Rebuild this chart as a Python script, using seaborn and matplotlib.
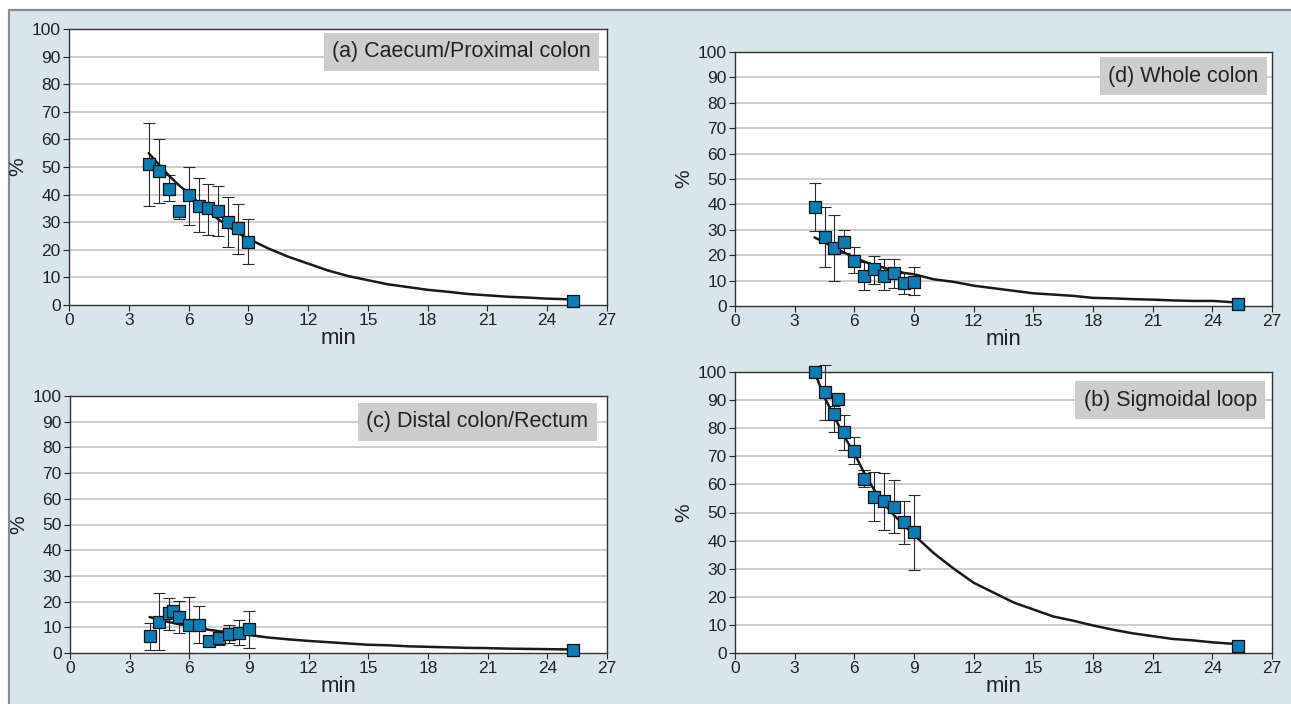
import matplotlib
matplotlib.use("Agg")
import matplotlib.pyplot as plt
import matplotlib.patches as mpatches
import numpy as np
import pandas as pd
import seaborn as sns

# ---- data ----
x_pts = [4, 4.5, 5, 5.5, 6, 6.5, 7, 7.5, 8, 8.5, 9, 25.3]
x_pts_b = [4, 4.5, 5, 5.2, 5.5, 6, 6.5, 7, 7.5, 8, 8.5, 9, 25.3]
curve_x = [4, 4.5, 5, 5.5, 6, 6.5, 7, 7.5, 8, 8.5, 9, 10, 11, 12, 13, 14, 15,
           16, 17, 18, 19, 20, 21, 22, 23, 24, 25, 25.3]

# (a) Caecum/Proximal colon
a_y = [51, 48.5, 42, 34, 40, 36, 35, 34, 30, 28, 23, 1.5]
a_lo = [36, 37, 37.7, 31, 29, 26.5, 25.5, 25, 21, 18.5, 15, 1.2]
a_hi = [66, 60, 47, 36, 50, 46, 44, 43, 39, 36.5, 31, 2]
a_curve = [55, 51, 47, 43.5, 40.5, 37, 34, 31, 28.5, 26, 24, 20.5, 17.5, 15,
           12.5, 10.5, 9, 7.5, 6.5, 5.5, 4.8, 4, 3.5, 3, 2.7, 2.3, 2.1, 2]

# (d) Whole colon
d_y = [38.8, 27.3, 23, 25.2, 17.7, 12, 14.4, 12, 12.8, 8.9, 9.4, 0.8]
d_lo = [29.5, 15.5, 10, 21, 12.8, 6.3, 8.5, 6.3, 7, 4.6, 4.2, 0.5]
d_hi = [48.5, 38.8, 36, 29.9, 23.3, 17.4, 19.7, 18.5, 18.7, 12.8, 15.2, 1]
d_curve = [27, 25, 23, 21, 19, 17.5, 16, 15, 14, 13, 12.5, 10.5, 9.5, 8, 7,
           6, 5, 4.5, 4, 3.2, 3, 2.7, 2.5, 2.2, 2, 2, 1.5, 1.5]

# (c) Distal colon/Rectum
c_y = [6.7, 12, 15.5, 16.4, 14.2, 11, 11, 4.5, 6, 7.4, 7.8, 9.4, 1.3]
c_lo = [1.3, 1.3, 9, 14, 7.8, 0, 3.9, 3.5, 3.2, 3.9, 3.2, 1.9, 1.0]
c_hi = [11.6, 23.5, 21.3, 18, 20.3, 21.7, 18.1, 5.5, 7.5, 11, 12.7, 16.4, 1.5]
c_curve = [14, 13, 12, 11.2, 10.5, 9.8, 9, 8.5, 8, 7.5, 7, 6, 5.3, 4.7, 4.2,
           3.7, 3.2, 3, 2.6, 2.4, 2.2, 2, 1.9, 1.7, 1.6, 1.5, 1.4, 1.4]

# (b) Sigmoidal loop
b_y = [100, 93, 85, 90.5, 78.5, 72, 62, 55.5, 54, 52, 46.5, 43, 2.5]
b_lo = [100, 83, 78.5, 89.5, 72.4, 67.3, 59, 46.9, 43.9, 42.7, 38.9, 29.5, 1.2]
b_hi = [100, 102.5, 88, 91, 84.8, 76.7, 65, 64.3, 63.9, 61.4, 54, 56.3, 4.4]
b_curve = [100, 91, 84, 77, 71, 64, 58, 53, 49, 45.5, 42, 35.5, 30, 25, 21.5,
           18, 15.5, 13, 11.5, 9.8, 8.3, 7, 6, 5, 4.5, 3.8, 3.3, 2.7]

sns.set_style("white")
plt.rcParams["font.family"] = ["Liberation Sans Narrow", "Liberation Sans", "DejaVu Sans"]

fig = plt.figure(figsize=(12.91, 7.04), dpi=100, facecolor="white")
fig.patches.append(mpatches.Rectangle((9 / 1291, 0), 1, 1 - 10 / 704,
                                      transform=fig.transFigure,
                                      facecolor="#d8e5ec", edgecolor="none", zorder=-10))
fig.lines.append(plt.Line2D([9 / 1291, 1], [1 - 10 / 704] * 2, transform=fig.transFigure,
                            color="#8c8c8c", lw=1.6, zorder=-5))
fig.lines.append(plt.Line2D([9 / 1291] * 2, [0, 1 - 10 / 704], transform=fig.transFigure,
                            color="#8c8c8c", lw=1.6, zorder=-5))


def panel(rect, label, label_pos, xp, y, lo, hi, cy):
    ax = fig.add_axes(rect)
    ax.set_facecolor("white")
    for yy in range(10, 100, 10):
        ax.axhline(yy, color="#c6c6c6", lw=1.2, zorder=1)
    y = np.array(y)
    yerr = [y - np.array(lo), np.array(hi) - y]
    eb = ax.errorbar(xp, y, yerr=yerr, fmt="none", ecolor="#2a2a2a", elinewidth=0.8,
                     capsize=4, capthick=0.8, zorder=2)
    for art in eb.lines[1] + eb.lines[2]:
        art.set_clip_on(False)
    sns.lineplot(x=curve_x, y=cy, ax=ax, color="#1a1a1a", lw=1.8, zorder=3)
    sns.scatterplot(x=xp, y=y, ax=ax, marker="s", s=68, color="#0a7db3",
                    edgecolor="#111111", linewidth=0.9, zorder=4, clip_on=False)
    ax.set_xlim(0, 27)
    ax.set_ylim(0, 100)
    ax.set_xticks(range(0, 28, 3))
    ax.set_yticks(range(0, 101, 10))
    ax.tick_params(axis="both", direction="out", length=4, width=0.8,
                   labelsize=12.5, colors="#222222", pad=2, bottom=True, left=True)
    for s in ax.spines.values():
        s.set_color("#333333")
        s.set_linewidth(1.0)
    ax.set_xlabel("min", fontsize=16, labelpad=0, color="#222222")
    ax.set_ylabel("%", fontsize=15, labelpad=3, color="#222222")
    ax.text(label_pos[0], label_pos[1], label, transform=ax.transAxes, ha="right",
            va="center", fontsize=15.5, color="#222222", zorder=5,
            bbox=dict(facecolor="#cdcdcd", edgecolor="none", pad=6))
    return ax


panel([69 / 1291, 1 - 305 / 704, 538 / 1291, 276 / 704], "(a) Caecum/Proximal colon",
      (0.97, 0.917), x_pts, a_y, a_lo, a_hi, a_curve)
panel([735 / 1291, 1 - 306 / 704, 537 / 1291, 254 / 704], "(d) Whole colon",
      (0.975, 0.904), x_pts, d_y, d_lo, d_hi, d_curve)
panel([70 / 1291, 1 - 653 / 704, 537 / 1291, 257 / 704], "(c) Distal colon/Rectum",
      (0.965, 0.899), x_pts_b, c_y, c_lo, c_hi, c_curve)
panel([735 / 1291, 1 - 653 / 704, 537 / 1291, 281 / 704], "(b) Sigmoidal loop",
      (0.972, 0.900), x_pts_b, b_y, b_lo, b_hi, b_curve)

fig.savefig("out.png", dpi=100, facecolor="white")
